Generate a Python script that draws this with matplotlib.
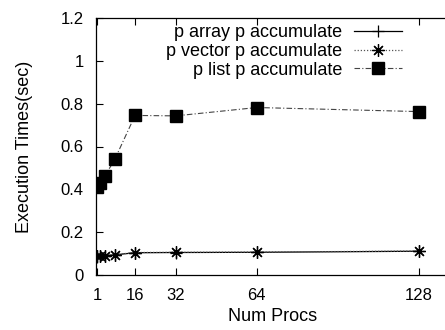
import matplotlib
matplotlib.use('Agg')
import matplotlib.pyplot as plt

plt.rcParams['font.family'] = ['Liberation Sans', 'DejaVu Sans']

procs = [1, 2, 4, 8, 16, 32, 64, 128]
t_array = [0.086, 0.088, 0.089, 0.094, 0.104, 0.105, 0.106, 0.111]
t_vector = [0.087, 0.089, 0.090, 0.095, 0.105, 0.106, 0.107, 0.112]
t_list = [0.41, 0.431, 0.46, 0.54, 0.745, 0.743, 0.782, 0.763]

xticks = [1, 16, 32, 64, 128]
yticks = [0, 0.2, 0.4, 0.6, 0.8, 1, 1.2]
ylabels = ['0', '0.2', '0.4', '0.6', '0.8', '1', '1.2']

fig = plt.figure(figsize=(4.45, 3.3), dpi=100)
ax = fig.add_axes([96/445, 55/330, 353.5/445, 257/330])

ax.plot(procs, t_array, color='black', lw=0.9, marker='+', ms=9, mew=0.9,
        label='p array p accumulate')
ax.plot(procs, t_vector, color='#555555', lw=0.9, ls=(0, (1, 1.5)),
        marker=(8, 2, 0), ms=9, mew=0.9, mec='black',
        label='p vector p accumulate')
ax.plot(procs, t_list, color='#444444', lw=0.8, ls=(0, (5, 2, 1, 2)),
        marker='s', ms=8, mfc='black', mec='black',
        label='p list p accumulate')

ax.set_xlim(0.6, 140.0)
ax.set_ylim(0, 1.2)
ax.set_xticks(xticks)
ax.set_xticklabels([str(v) for v in xticks])
ax.set_yticks(yticks)
ax.set_yticklabels(ylabels)
ax.tick_params(direction='in', length=5, width=0.8, labelsize=12,
               top=True, right=False)
ax.tick_params(axis='x', pad=9)
ax.tick_params(axis='y', pad=9)
ax.spines['right'].set_visible(False)
for s in ['left', 'bottom', 'top']:
    ax.spines[s].set_linewidth(0.9)

ax.set_xlabel('Num Procs', fontsize=13, labelpad=4)
ax.set_ylabel('Execution Times(sec)', fontsize=13, labelpad=20)

ax.legend(loc='upper right', bbox_to_anchor=(0.866, 0.976), frameon=False,
          markerfirst=False, handlelength=2.65, fontsize=13,
          labelspacing=0.1, handletextpad=0.67, borderaxespad=0,
          borderpad=0)

fig.savefig('out.png', dpi=100)
